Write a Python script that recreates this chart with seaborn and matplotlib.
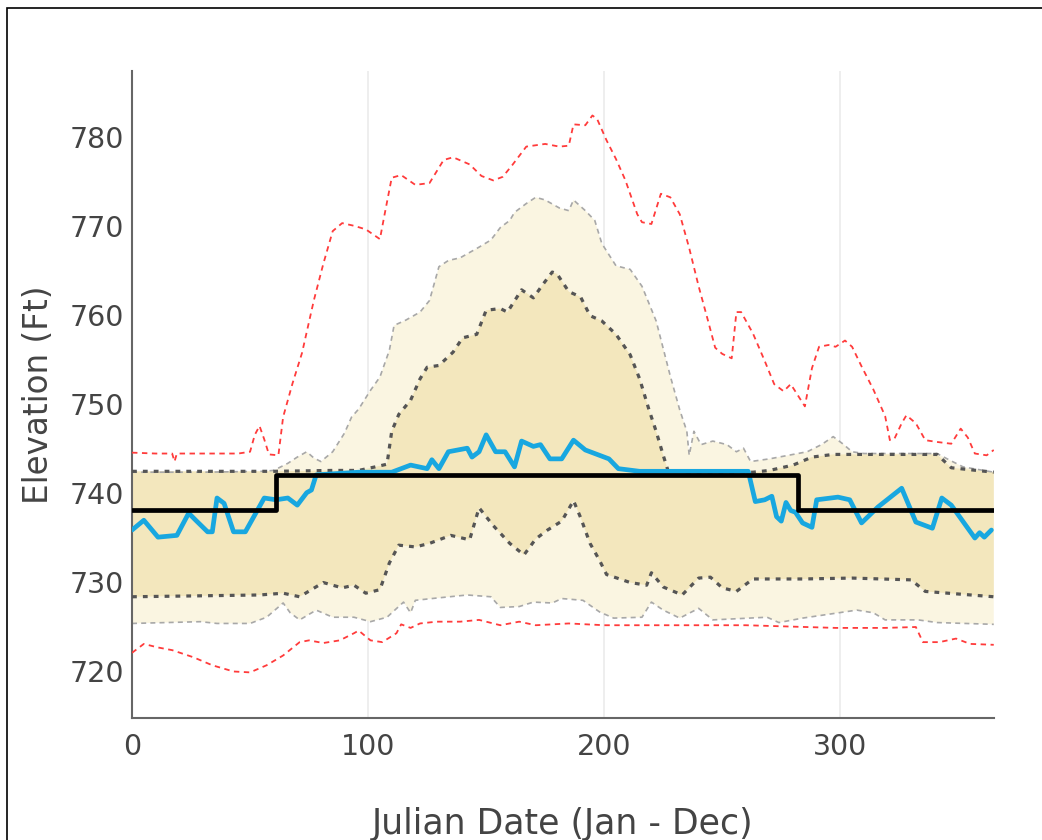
import matplotlib
matplotlib.use("Agg")
import matplotlib.pyplot as plt
from matplotlib.patches import Rectangle
import numpy as np
import seaborn as sns

#%% values
max_day = [0, 10, 17, 18, 19, 30, 45, 50, 52, 54, 56, 58, 62, 64, 68, 72, 77, 81, 85, 89, 94, 99, 105,
           107, 110, 114, 120, 126, 132, 136, 143, 148, 153, 157, 161, 167, 175, 181, 185, 187, 192, 195,
           197, 201, 205, 209, 214, 216, 220, 224, 228, 232, 236, 240, 244, 247, 250, 254, 256, 258, 263,
           268, 272, 276, 279, 285, 288, 291, 295, 298, 302, 305, 309, 314, 319, 321, 323, 326, 328, 332,
           336, 341, 347, 351, 354, 357, 362, 365]
max_elev = [744.5, 744.4, 744.4, 743.5, 744.4, 744.4, 744.4, 744.6, 746.5, 747.5, 746.0, 744.3, 744.2,
            748.5, 752.3, 755.7, 761.6, 765.7, 769.4, 770.3, 770.0, 769.6, 768.5, 771.3, 775.4, 775.7,
            774.6, 774.8, 777.4, 777.7, 776.9, 775.6, 775.1, 775.5, 776.8, 778.9, 779.2, 778.9, 779.0,
            781.4, 781.3, 782.4, 782.0, 779.6, 777.5, 775.1, 771.3, 770.4, 770.2, 773.6, 773.2, 771.3,
            767.5, 763.2, 759.3, 756.3, 755.6, 755.1, 760.3, 760.3, 757.9, 754.8, 752.2, 751.4, 752.2,
            749.7, 754.0, 756.4, 756.6, 756.4, 757.1, 756.4, 754.2, 751.6, 748.6, 745.9, 746.1, 747.8,
            748.7, 747.8, 745.9, 745.7, 745.5, 747.2, 746.2, 744.4, 744.2, 744.8]

min_day = [0, 5, 11, 17, 26, 34, 43, 50, 57, 64, 71, 75, 81, 88, 94, 96, 101, 106, 112, 114, 118, 122,
           129, 139, 147, 156, 164, 171, 185, 200, 230, 260, 298, 319, 332, 335, 342, 349, 355, 365]
min_elev = [722.0, 723.0, 722.6, 722.3, 721.5, 720.6, 719.9, 719.8, 720.6, 721.7, 723.2, 723.4, 723.1,
            723.4, 724.2, 724.5, 723.4, 723.2, 724.2, 725.2, 724.8, 725.3, 725.5, 725.5, 725.7, 725.1,
            725.5, 725.1, 725.3, 725.1, 725.1, 725.1, 724.8, 724.8, 724.9, 723.2, 723.2, 723.6, 723.0,
            722.9]

p90_day = [0, 30, 55, 60, 66, 70, 74, 77, 80, 85, 90, 93, 96, 101, 105, 109, 111, 116, 122, 126, 130,
           134, 139, 143, 147, 152, 156, 160, 162, 167, 171, 175, 181, 185, 187, 192, 196, 199, 205, 211,
           216, 222, 228, 232, 235, 236, 238, 241, 246, 252, 256, 259, 262, 270, 278, 286, 292, 297, 301,
           305, 310, 341, 346, 352, 365]
p90_elev = [742.3, 742.3, 742.4, 742.5, 743.3, 744.0, 744.6, 743.9, 743.5, 744.6, 746.7, 748.5, 749.4,
            751.5, 753.0, 756.0, 758.8, 759.4, 760.3, 761.6, 765.4, 766.1, 766.4, 767.0, 767.6, 768.4,
            769.8, 770.6, 771.5, 772.5, 773.2, 772.9, 772.0, 771.7, 772.9, 771.7, 770.6, 768.0, 765.5,
            765.1, 763.2, 759.3, 753.1, 749.3, 746.9, 744.2, 746.9, 745.4, 745.8, 745.4, 744.6, 745.0,
            743.5, 743.8, 744.2, 744.6, 745.4, 746.3, 745.5, 744.6, 744.4, 744.4, 743.7, 742.9, 742.3]

p75_day = [0, 60, 85, 96, 103, 108, 110, 113, 118, 122, 125, 130, 136, 140, 146, 150, 156, 159, 165,
           170, 174, 178, 180, 185, 190, 194, 199, 205, 211, 215, 219, 222, 225, 227, 236, 263, 270, 280,
           288, 297, 341, 347, 365]
p75_elev = [742.4, 742.4, 742.5, 742.5, 742.9, 743.2, 746.9, 748.8, 750.4, 752.8, 754.1, 754.3, 755.8,
            757.4, 757.8, 760.5, 760.7, 760.3, 762.8, 761.9, 763.4, 764.8, 764.6, 762.6, 762.0, 759.9,
            759.3, 757.8, 755.5, 752.8, 749.3, 746.9, 744.2, 742.5, 742.3, 742.3, 742.5, 743.1, 744.0,
            744.3, 744.3, 742.8, 742.3]

p25_day = [0, 54, 64, 71, 81, 89, 94, 99, 105, 109, 113, 120, 126, 135, 143, 147, 153, 160, 166, 171,
           176, 182, 187, 190, 194, 198, 201, 211, 218, 220, 225, 233, 240, 245, 250, 256, 263, 284, 305,
           330, 336, 365]
p25_elev = [728.3, 728.5, 728.7, 728.3, 729.9, 729.3, 729.6, 728.7, 729.1, 732.1, 734.1, 733.9, 734.3,
            735.2, 734.7, 738.3, 736.3, 734.3, 733.0, 734.8, 735.8, 736.8, 739.1, 737.2, 734.3, 732.4,
            730.8, 729.9, 729.6, 731.0, 729.4, 728.5, 730.4, 730.5, 729.3, 728.9, 730.3, 730.3, 730.4,
            730.2, 728.9, 728.3]

p10_day = [0, 29, 36, 50, 57, 64, 67, 71, 78, 85, 94, 101, 108, 115, 118, 120, 127, 142, 152, 156, 164,
           170, 178, 182, 191, 198, 204, 216, 220, 225, 232, 240, 246, 269, 274, 284, 307, 314, 319, 333,
           341, 365]
p10_elev = [725.3, 725.5, 725.3, 725.3, 726.0, 727.6, 726.5, 725.7, 726.8, 726.0, 726.0, 725.5, 726.0,
            727.7, 726.5, 727.9, 728.1, 728.5, 728.3, 727.1, 727.2, 727.7, 727.6, 728.1, 727.9, 726.6,
            725.9, 726.0, 727.7, 726.8, 725.9, 727.0, 725.7, 726.0, 725.4, 725.9, 726.8, 726.5, 725.7,
            725.7, 725.4, 725.2]

cur_day = [0, 5, 11, 19, 24, 27, 32, 34, 36, 39, 43, 48, 52, 56, 61, 66, 70, 74, 76, 78, 96, 110, 118,
           125, 127, 130, 134, 142, 144, 147, 150, 154, 158, 162, 165, 170, 173, 177, 182, 187, 192, 198,
           202, 206, 215, 261, 264, 268, 271, 273, 275, 277, 279, 281, 284, 288, 290, 299, 304, 309, 316,
           326, 332, 339, 343, 347, 357, 359, 361, 364]
cur_elev = [735.8, 736.9, 735.0, 735.2, 737.7, 736.9, 735.6, 735.6, 739.4, 738.8, 735.6, 735.6, 737.5,
            739.4, 739.2, 739.4, 738.6, 740.0, 740.3, 742.0, 742.3, 742.3, 743.1, 742.7, 743.7, 742.7,
            744.6, 745.0, 744.0, 744.6, 746.5, 744.6, 744.6, 742.9, 745.8, 745.2, 745.4, 743.8, 743.8,
            745.9, 744.8, 744.2, 743.8, 742.7, 742.4, 742.4, 739.0, 739.2, 739.6, 737.3, 736.8, 738.9,
            738.0, 737.8, 736.6, 736.1, 739.2, 739.5, 739.2, 736.6, 738.4, 740.5, 736.7, 736.0, 739.4,
            738.6, 734.9, 735.5, 735.0, 735.8]

guide_day = [0, 61, 282, 365]
guide_elev = [738, 742, 738, 738]

#%%
sns.set_style("white")
plt.rcParams['font.family'] = ['DejaVu Sans']

fig = plt.figure(figsize=(10.42, 8.4), dpi=100)
ax = fig.add_axes([0.1267, 0.145, 0.827, 0.7705])

# percentile bands
ax.fill(np.r_[p90_day, p10_day[::-1]], np.r_[p90_elev, p10_elev[::-1]], color='#faf5e1', lw=0, zorder=1)
ax.fill(np.r_[p75_day, p25_day[::-1]], np.r_[p75_elev, p25_elev[::-1]], color='#f3e7bd', lw=0, zorder=1)

for d, e in [(p90_day, p90_elev), (p10_day, p10_elev)]:
    sns.lineplot(x=d, y=e, ax=ax, color='#a8a8a8', lw=1.2, linestyle=(0, (3, 2.5)), zorder=2)
for d, e in [(p75_day, p75_elev), (p25_day, p25_elev)]:
    sns.lineplot(x=d, y=e, ax=ax, color='#555555', lw=2.3, linestyle=(0, (1.5, 1.9)), zorder=3)
for d, e in [(max_day, max_elev), (min_day, min_elev)]:
    sns.lineplot(x=d, y=e, ax=ax, color='#ff3b3b', lw=1.3, linestyle=(0, (3, 2.5)), zorder=3)

sns.lineplot(x=cur_day, y=cur_elev, ax=ax, color='#18a7e0', lw=3.4, zorder=4)
sns.lineplot(x=guide_day, y=guide_elev, ax=ax, color='black', lw=3.4, drawstyle='steps-post', zorder=5)

ax.set_xlim(0, 365)
ax.set_ylim(714.65, 787.4)
ax.set_xticks([0, 100, 200, 300])
ax.set_yticks(range(720, 790, 10))
ax.grid(axis='x', color='#ebebeb', lw=1.2)
ax.grid(axis='y', visible=False)
for s in ['top', 'right']:
    ax.spines[s].set_visible(False)
for s in ['left', 'bottom']:
    ax.spines[s].set_color('#666666')
    ax.spines[s].set_linewidth(1.5)
ax.tick_params(length=0, labelsize=20.5, labelcolor='#444444')
ax.tick_params(axis='x', pad=11)
ax.tick_params(axis='y', pad=6)
ax.set_xlabel('Julian Date (Jan - Dec)', fontsize=25, color='#444444', labelpad=33)
ax.set_ylabel('Elevation (Ft)', fontsize=23.5, color='#444444', labelpad=10)

fig.patches.append(Rectangle((7 / 1042, -0.05), 1.1, 1.05 - 8 / 840, transform=fig.transFigure,
                             fill=False, edgecolor='black', lw=1.2))

plt.savefig('out.png', dpi=100)
